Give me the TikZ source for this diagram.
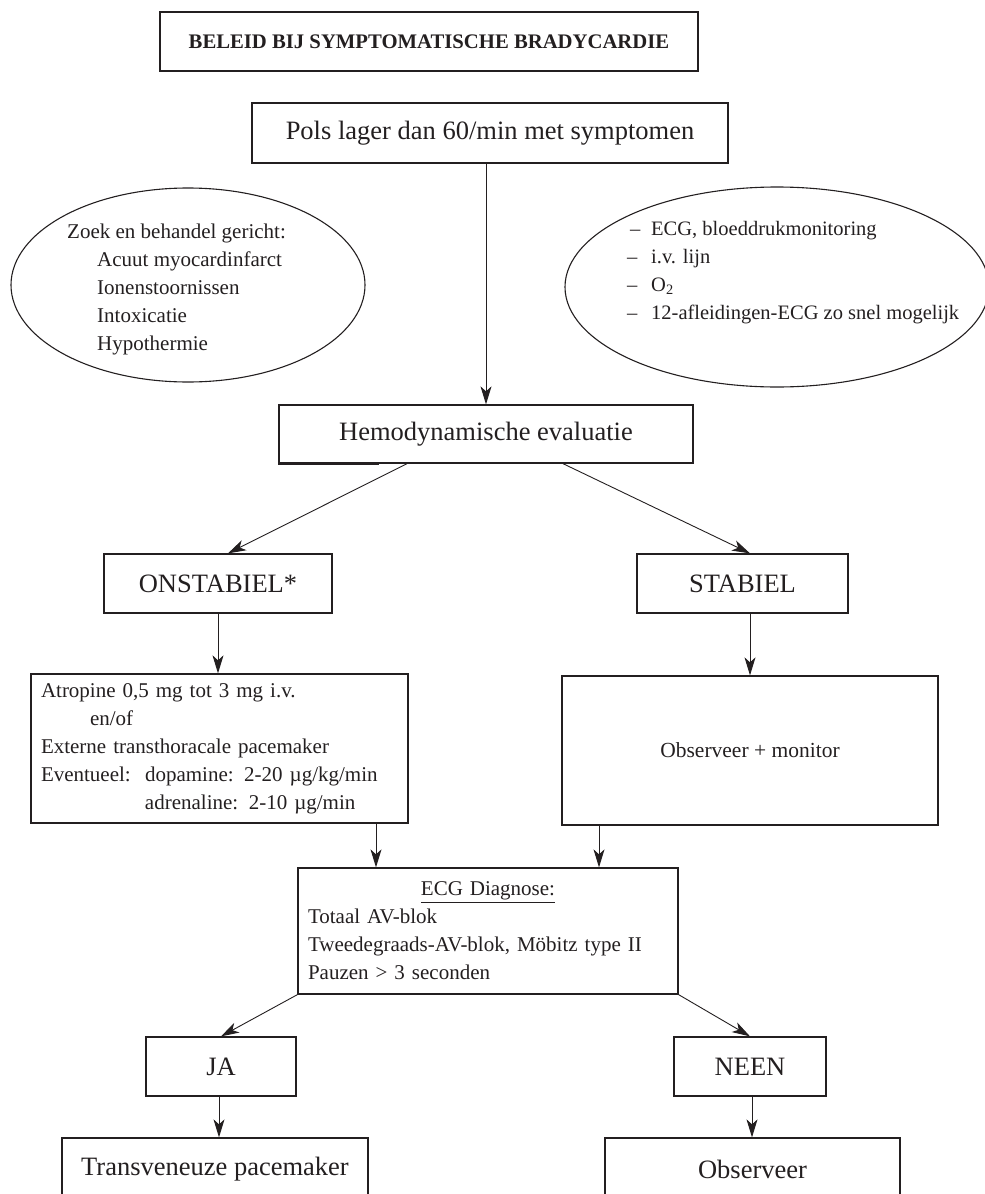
\documentclass[tikz,border=0pt]{standalone}
\usepackage{fontspec}
\setmainfont{Liberation Serif}
\usetikzlibrary{arrows.meta,shapes.geometric}
\definecolor{ink}{RGB}{35,31,32}
\begin{document}
\begin{tikzpicture}[x=1pt,y=-1pt,
  every node/.style={text=ink},
  box/.style={draw=ink, line width=1.3pt, inner sep=0pt, rectangle},
  big/.style={font=\fontsize{26.5}{32}\selectfont},
  small/.style={font=\fontsize{21}{28}\selectfont},
  elltext/.style={inner sep=0pt, align=left, anchor=north west},
  arr/.style={draw=ink, line width=0.9pt, -{Stealth[length=18pt,width=11pt,inset=5pt]}},
  ell/.style={draw=ink, line width=1.1pt, ellipse, inner sep=0pt}]
\useasboundingbox (0,0) rectangle (985,1194);
\clip (0,0) rectangle (985,1194);

\node[box, minimum width=538, minimum height=59, font=\bfseries\fontsize{20.7}{25}\selectfont] (title) at (429,41.5) {BELEID BIJ SYMPTOMATISCHE BRADYCARDIE};

\node[box,big,minimum width=476,minimum height=60] (pols) at (490,133) {Pols lager dan 60/min met symptomen};

\node[ell, minimum width=354, minimum height=194] (ellL) at (188,285) {};
\node[elltext, font=\fontsize{21}{28}\selectfont] (ellLt) at (67,224) {Zoek en behandel gericht:\\
\hspace*{30pt}Acuut myocardinfarct\\
\hspace*{30pt}Ionenstoornissen\\
\hspace*{30pt}Intoxicatie\\
\hspace*{30pt}Hypothermie};

\node[ell, minimum width=424, minimum height=200] (ellR) at (777,287) {};
\node[elltext, font=\fontsize{20.5}{28}\selectfont] (ellRt) at (627,221) {\hspace*{3pt}\makebox[21pt][l]{–}ECG, bloeddrukmonitoring\\
\makebox[24pt][l]{–}i.v. lijn\\
\makebox[24pt][l]{–}O\textsubscript{2}\\
\makebox[24pt][l]{–}12-afleidingen-ECG zo snel mogelijk};

\node[box,big,minimum width=414,minimum height=58] (hemo) at (486,434) {Hemodynamische evaluatie};
\draw[ink, line width=2.4pt] (hemo.south west) -- ++(101,0);

\node[box,big,minimum width=228,minimum height=59] (onst) at (218,583.5) {ONSTABIEL*};
\node[box,big,minimum width=211,minimum height=59] (stab) at (742.5,583.5) {STABIEL};

\node[box,small,minimum width=377,minimum height=149,text width=357,align=left] (atro) at (219.5,748.5)
{Atropine 0,5 mg tot 3 mg i.v.\\
\hspace*{49pt}en/of\\
Externe transthoracale pacemaker\\
\makebox[104pt][l]{Eventueel:}dopamine: 2-20 µg/kg/min\\
\hspace*{104pt}adrenaline: 2-10 µg/min};

\node[box, minimum width=376, minimum height=149, font=\fontsize{21.5}{26}\selectfont] (obsmon) at (750,750.5) {Observeer + monitor};

\node[box,small,minimum width=380,minimum height=126,text width=360,align=left] (ecg) at (488,931)
{\makebox[360pt]{\underline{ECG Diagnose:}}\\
Totaal AV-blok\\
Tweedegraads-AV-blok, Möbitz type II\\
Pauzen > 3 seconden};

\node[box,big,minimum width=150,minimum height=59] (ja) at (221,1066.5) {JA};
\node[box,big,minimum width=152,minimum height=59] (neen) at (750,1066.5) {NEEN};

\node[box,big,minimum width=306,minimum height=62] (trans) at (215,1169) {Transveneuze pacemaker};
\node[box,big,minimum width=295,minimum height=62] (obs) at (752.5,1169) {Observeer};

\coordinate (cx1) at (486,0);
\coordinate (cx2) at (376,0);
\coordinate (cx3) at (599,0);
\coordinate (cx4) at (219,0);
\coordinate (cx5) at (752,0);

\draw[arr] (pols.south -| cx1) -- (hemo.north -| cx1);
\draw[arr] ([xshift=-79pt]hemo.south) -- ([xshift=10pt]onst.north);
\draw[arr] ([xshift=77pt]hemo.south) -- ([xshift=7.5pt]stab.north);
\draw[arr] (onst.south) -- (onst.south |- atro.north);
\draw[arr] (obsmon.north |- stab.south) -- (obsmon.north);
\draw[arr] (atro.south -| cx2) -- (ecg.north -| cx2);
\draw[arr] (obsmon.south -| cx3) -- (ecg.north -| cx3);
\draw[arr] (ecg.south west) -- (ja.north);
\draw[arr] (ecg.south east) -- (neen.north);
\draw[arr] (ja.south -| cx4) -- (trans.north -| cx4);
\draw[arr] (neen.south -| cx5) -- (obs.north -| cx5);
\end{tikzpicture}
\end{document}
